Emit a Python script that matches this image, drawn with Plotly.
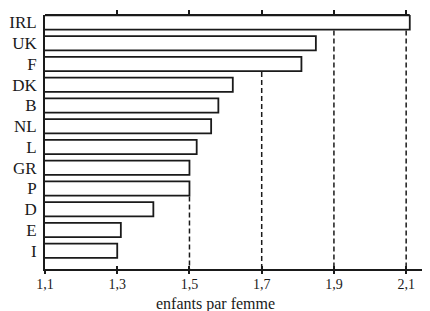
import plotly.graph_objects as go

countries = ["IRL", "UK", "F", "DK", "B", "NL", "L", "GR", "P", "D", "E", "I"]
fertility = [2.11, 1.85, 1.81, 1.62, 1.58, 1.56, 1.52, 1.50, 1.50, 1.40, 1.31, 1.30]
tick_vals = [1.1, 1.3, 1.5, 1.7, 1.9, 2.1]
tick_text = ["1,1", "1,3", "1,5", "1,7", "1,9", "2,1"]
guide_vals = [1.5, 1.7, 1.9, 2.1]
x_title = "enfants par femme"

FONT = "Liberation Serif, Times New Roman, serif"
INK = "#1a1a1a"
BAR_W = 0.68
Y_TOP = -0.36
Y_BOTTOM = 11.88
X_RANGE = [1.1, 2.166]

pos = list(range(len(countries)))

fig = go.Figure()
fig.add_trace(go.Bar(
    x=fertility, y=pos, orientation="h", width=BAR_W,
    marker=dict(color="white", line=dict(color=INK, width=1.8)),
    showlegend=False, hoverinfo="x+text", text=countries, textposition="none",
))

# invisible traces carrying the top and crossing axes
fig.add_trace(go.Scatter(x=[X_RANGE[0]], y=[0], xaxis="x2", mode="markers",
                         marker=dict(opacity=0), showlegend=False, hoverinfo="skip"))
fig.add_trace(go.Scatter(x=[X_RANGE[0]], y=[0], xaxis="x3", mode="markers",
                         marker=dict(opacity=0), showlegend=False, hoverinfo="skip"))

shapes = []
# dashed guides below the last bar reaching each value
for g in guide_vals:
    idx = max(i for i, v in enumerate(fertility) if v >= g - 1e-9)
    shapes.append(dict(type="line", xref="x", yref="y", x0=g, x1=g,
                       y0=idx + BAR_W / 2 + 0.05, y1=Y_BOTTOM,
                       line=dict(color=INK, width=1.5, dash="5px,3px"), layer="below"))
# top frame line, up to the longest bar
shapes.append(dict(type="line", xref="x", yref="paper", x0=X_RANGE[0], x1=max(fertility),
                   y0=1, y1=1, line=dict(color=INK, width=1.8)))

# page body has an 8px margin, so the figure is laid out 8px smaller
fig.update_layout(
    width=422, height=303,
    margin=dict(l=37, r=0, t=7, b=42),
    paper_bgcolor="white", plot_bgcolor="white",
    font=dict(family=FONT, color=INK),
    bargap=0.3,
    shapes=shapes,
    xaxis=dict(range=X_RANGE, tickvals=tick_vals, ticktext=tick_text, automargin=False,
               showgrid=False, zeroline=False, showline=True, linecolor=INK, linewidth=1.8,
               ticks="outside", ticklen=3, tickwidth=1.5, tickcolor=INK,
               ticklabelstandoff=-2,
               tickfont=dict(family=FONT, size=14, color=INK)),
    xaxis2=dict(range=X_RANGE, overlaying="x", side="top", tickvals=tick_vals[1:],
                showticklabels=False, showgrid=False, zeroline=False, showline=False,
                automargin=False,
                ticks="outside", ticklen=4, tickwidth=1.5, tickcolor=INK),
    xaxis3=dict(range=X_RANGE, overlaying="x", side="bottom", tickvals=tick_vals,
                showticklabels=False, showgrid=False, zeroline=False, showline=False,
                automargin=False,
                ticks="inside", ticklen=3, tickwidth=1.5, tickcolor=INK),
    yaxis=dict(range=[Y_BOTTOM, Y_TOP], tickvals=pos, ticktext=countries, automargin=False,
               showgrid=False, zeroline=False, showline=True, linecolor=INK, linewidth=1.8,
               ticks="", ticklabelstandoff=3,
               tickfont=dict(family=FONT, size=17, color=INK)),
    annotations=[dict(text=x_title, xref="paper", yref="paper", x=0.444, y=-0.138,
                      xanchor="center", yanchor="middle", showarrow=False,
                      font=dict(family=FONT, size=16, color=INK))],
)

fig.write_html("out.html")
